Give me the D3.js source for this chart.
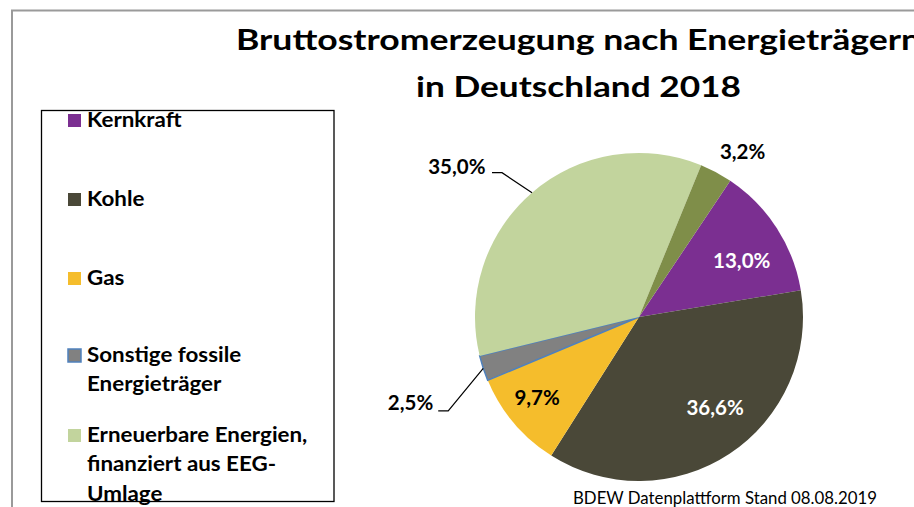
<!DOCTYPE html>
<html>
<head>
<meta charset="utf-8">
<script src="https://cdn.jsdelivr.net/npm/d3@7"></script>
<style>
  body { margin: 0; background: #fff; }
  svg { display: block; font-family: Lato, "Open Sans", sans-serif; }
</style>
</head>
<body>
<svg></svg>
<script>
// Data
const categories = [
  ["Kernkraft"],
  ["Kohle"],
  ["Gas"],
  ["Sonstige fossile", "Energieträger"],
  ["Erneuerbare Energien,", "finanziert aus EEG-", "Umlage"],
  ["Erneuerbare Energien, übrige"]
];
const values = [13.0, 36.6, 9.7, 2.5, 35.0, 3.2];
const valueLabels = ["13,0%", "36,6%", "9,7%", "2,5%", "35,0%", "3,2%"];
const colors = ["#7b2f91", "#4a4838", "#f5bd2c", "#818181", "#c2d49d", "#7f8e49"];
const titleLines = ["Bruttostromerzeugung nach Energieträgern", "in Deutschland 2018"];
const source = "BDEW Datenplattform Stand 08.08.2019";

const width = 914, height = 507;
const svg = d3.select("svg").attr("width", width).attr("height", height);

// stretch text horizontally by a factor (reference font is wider)
function stretch(sel, k) {
  sel.each(function () {
    const w = this.getComputedTextLength();
    d3.select(this).attr("textLength", w * k).attr("lengthAdjust", "spacingAndGlyphs");
  });
}

// Outer frame
svg.append("path")
  .attr("d", `M12,${height} V10.5 H${width}`)
  .attr("fill", "none")
  .attr("stroke", "#9a9a9a")
  .attr("stroke-width", 2);

// Title
const titleWidths = [685, 325];
svg.selectAll(".title")
  .data(titleLines)
  .join("text")
    .attr("x", 578.5)
    .attr("y", (d, i) => 49.5 + i * 47.5)
    .attr("text-anchor", "middle")
    .attr("font-size", 29)
    .attr("font-weight", 700)
    .attr("textLength", (d, i) => titleWidths[i])
    .attr("lengthAdjust", "spacingAndGlyphs")
    .text(d => d);

// Pie
const cx = 639, cy = 317, r = 164;
const startDeg = 33.8;
const pie = d3.pie().sort(null)
  .startAngle(startDeg * Math.PI / 180)
  .endAngle((startDeg + 360) * Math.PI / 180);
const arcs = pie(values);
const arc = d3.arc().innerRadius(0).outerRadius(r);

const g = svg.append("g").attr("transform", `translate(${cx},${cy})`);
g.selectAll("path")
  .data(arcs)
  .join("path")
    .attr("d", arc)
    .attr("fill", (d, i) => colors[i])
    .attr("stroke", (d, i) => i === 3 ? "#4f81bd" : "none")
    .attr("stroke-width", 1.5);

// Labels inside (radius fraction, angle shift in degrees)
const inside = {
  0: { r: 0.714, shift: 4.1, color: "#fff" },
  1: { r: 0.723, shift: -6.4, color: "#fff" },
  2: { r: 0.795, shift: 1.6, color: "#000" }
};
const insidePos = d => {
  const o = inside[d.index];
  const a = (d.startAngle + d.endAngle) / 2 + o.shift * Math.PI / 180;
  return [Math.sin(a) * r * o.r, -Math.cos(a) * r * o.r];
};
g.selectAll(".inlabel")
  .data(arcs.filter(d => inside[d.index]))
  .join("text")
    .attr("transform", d => `translate(${insidePos(d)})`)
    .attr("text-anchor", "middle")
    .attr("dy", "0.35em")
    .attr("font-size", 20.5)
    .attr("font-weight", 700)
    .attr("fill", d => inside[d.index].color)
    .text(d => valueLabels[d.index]);

// Outside labels with leader lines
const edge = d => {
  const a = (d.startAngle + d.endAngle) / 2;
  return [Math.sin(a) * r, -Math.cos(a) * r];
};
const outside = {
  3: { elbow: [-35, 42.5], end: [-45, 42.5], text: [-50, 42], anchor: "end" },
  4: { elbow: [-30, -20], end: [-40, -20], text: [-46.5, -19], anchor: "end" },
  5: { elbow: null, text: [26.5, -13], anchor: "middle" }
};
arcs.filter(d => outside[d.index]).forEach(d => {
  const o = outside[d.index];
  const [ex, ey] = edge(d);
  if (o.elbow) {
    g.append("path")
      .attr("d", `M${ex},${ey} L${ex + o.elbow[0]},${ey + o.elbow[1]} L${ex + o.end[0]},${ey + o.end[1]}`)
      .attr("fill", "none")
      .attr("stroke", "#000")
      .attr("stroke-width", 1.2);
  }
  g.append("text")
    .attr("x", ex + o.text[0])
    .attr("y", ey + o.text[1])
    .attr("text-anchor", o.anchor)
    .attr("font-size", 20.5)
    .attr("font-weight", 700)
    .text(valueLabels[d.index]);
});

// Legend (only the first five entries fit in the visible box)
const legend = svg.append("g");
legend.append("rect")
  .attr("x", 41.5).attr("y", 110.5)
  .attr("width", 292.5).attr("height", 391)
  .attr("fill", "#fff")
  .attr("stroke", "#000")
  .attr("stroke-width", 1.3);

const legendY = [127, 206, 285, 362, 442];
const items = legend.selectAll(".item")
  .data(categories.slice(0, legendY.length))
  .join("g")
    .attr("transform", (d, i) => `translate(0,${legendY[i]})`);
items.append("rect")
  .attr("x", 68).attr("y", -13)
  .attr("width", 13).attr("height", 13)
  .attr("fill", (d, i) => colors[i])
  .attr("stroke", (d, i) => i === 3 ? "#4f81bd" : "none")
  .attr("stroke-width", 1.5);
items.selectAll("text")
  .data(d => d)
  .join("text")
    .attr("x", 87)
    .attr("y", (d, j) => j * 29.3)
    .attr("font-size", 20.5)
    .attr("font-weight", 700)
    .text(d => d)
    .call(stretch, 1.09);

// Source
svg.append("text")
  .attr("x", 573).attr("y", 504)
  .attr("font-size", 17.5)
  .attr("textLength", 304)
  .attr("lengthAdjust", "spacingAndGlyphs")
  .text(source);
</script>
</body>
</html>
